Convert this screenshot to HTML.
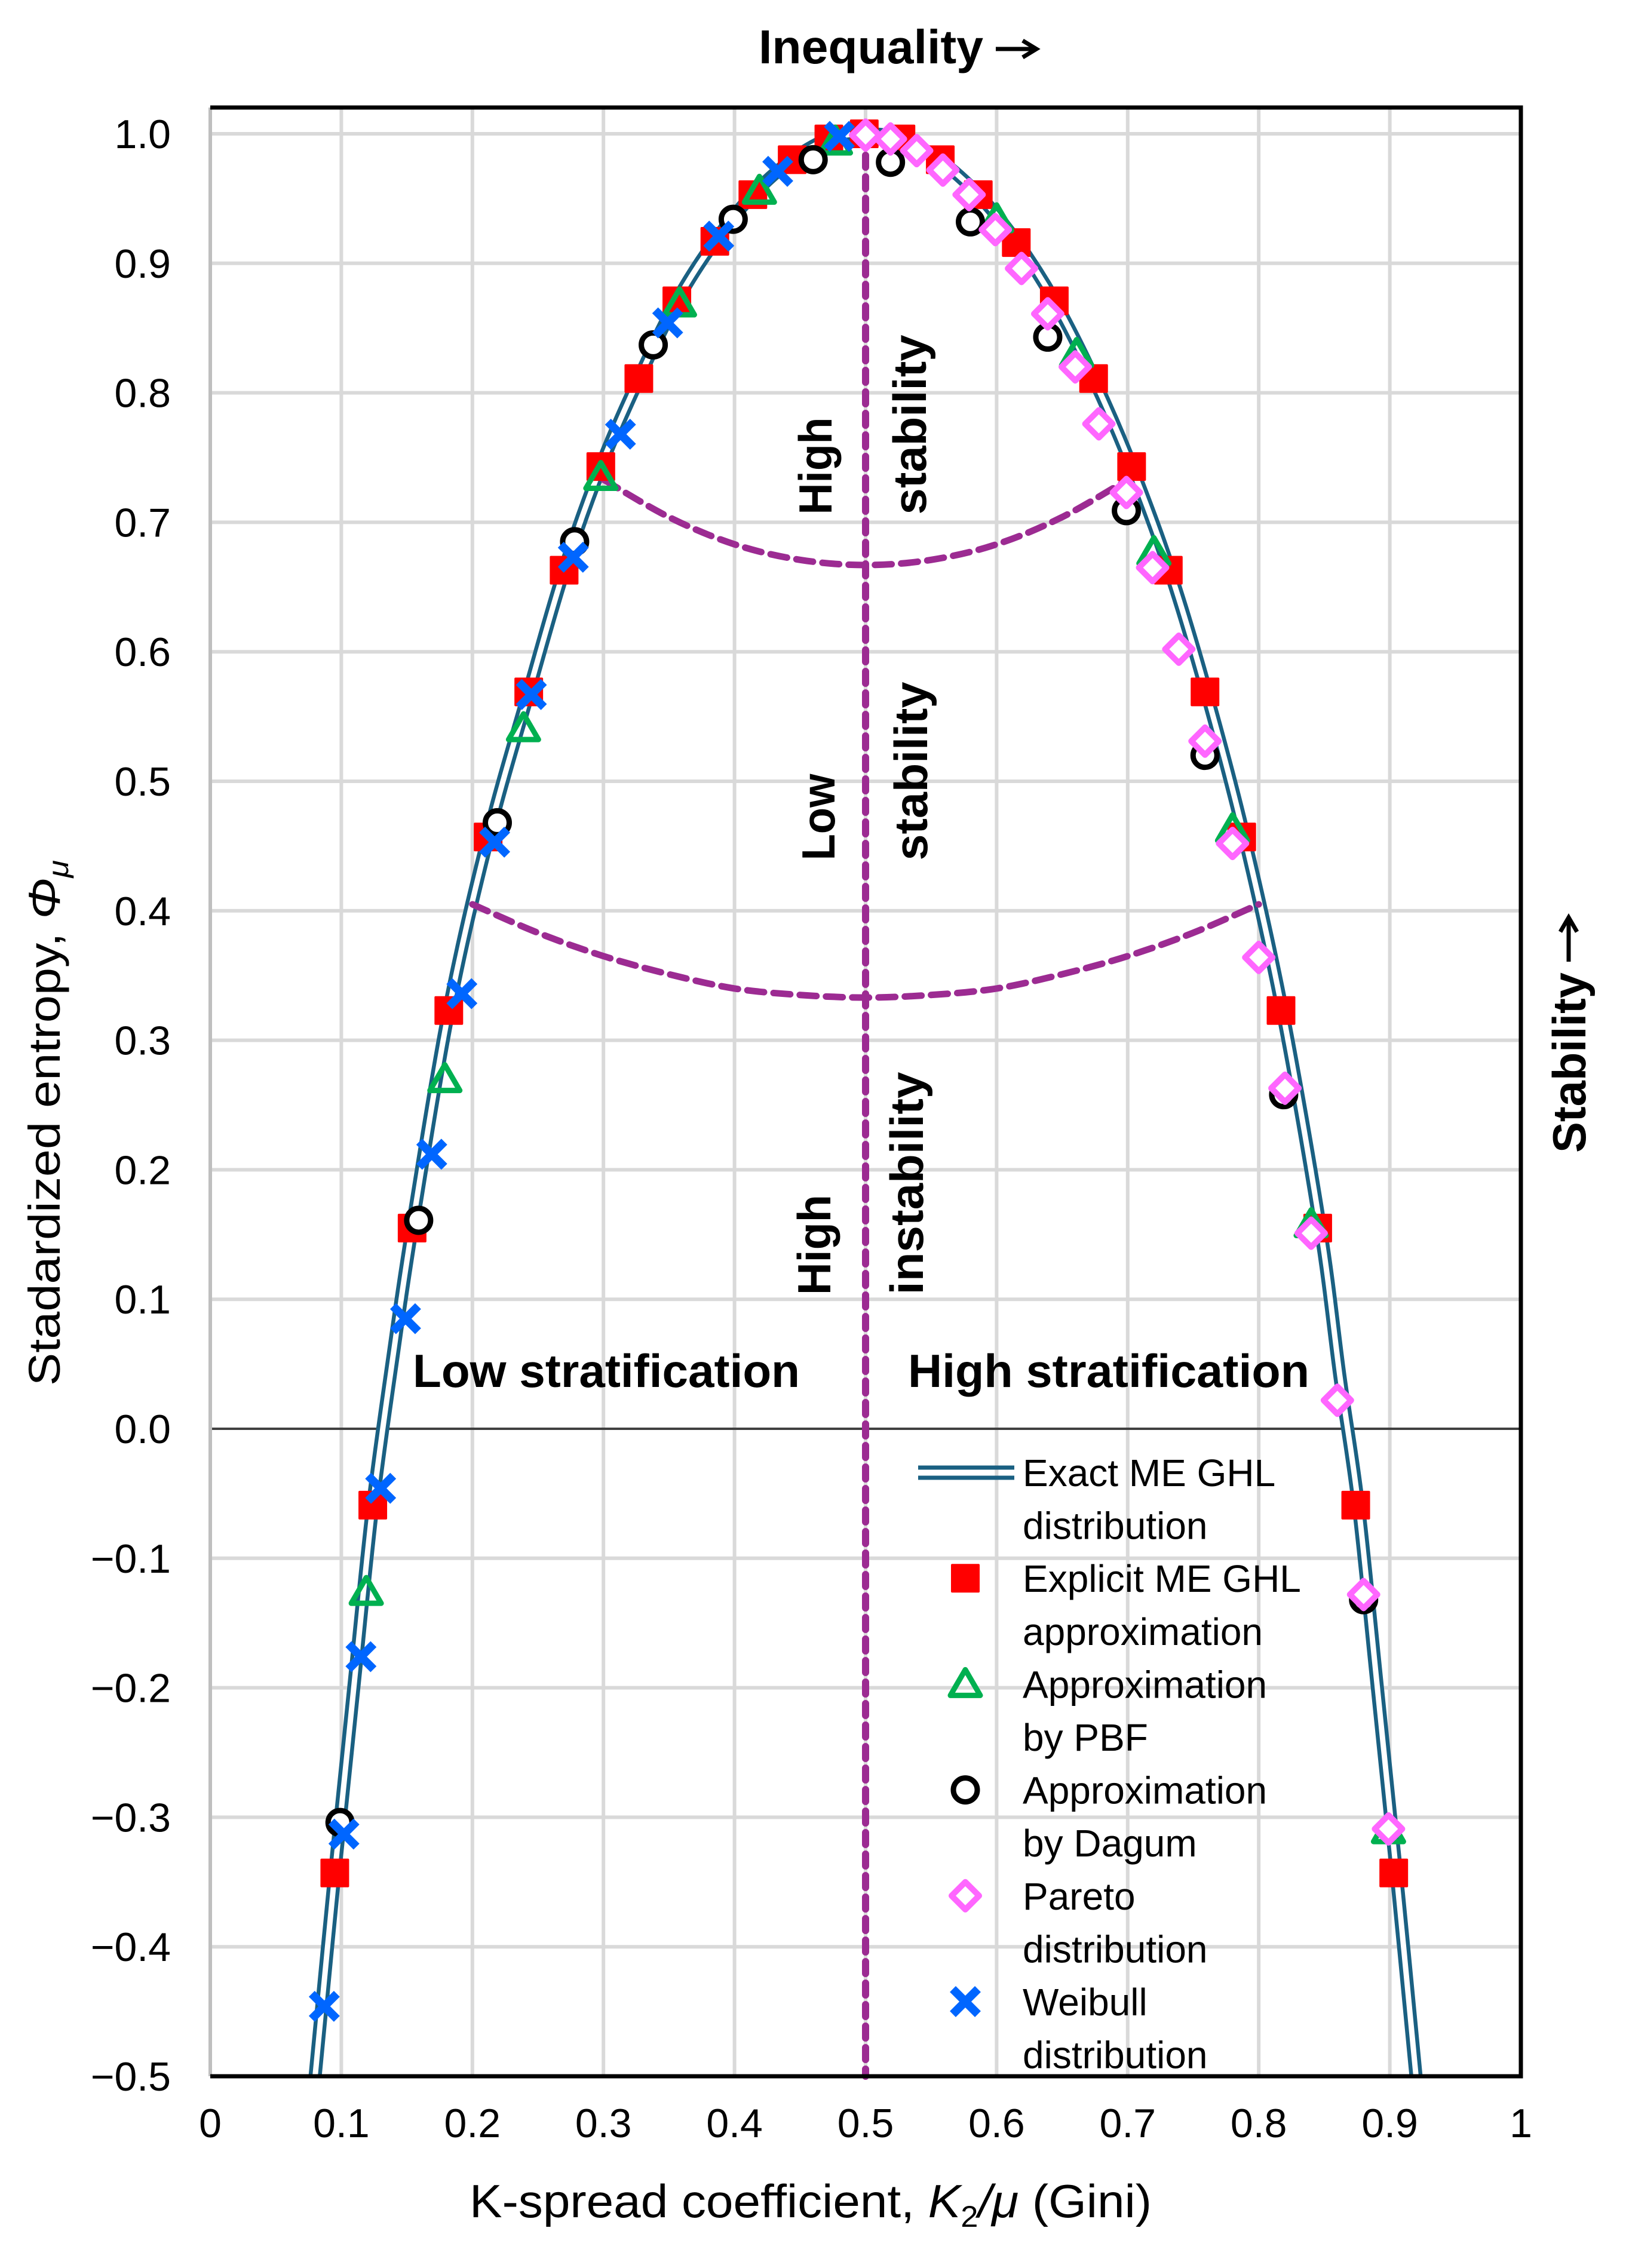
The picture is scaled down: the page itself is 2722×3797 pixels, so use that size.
<!DOCTYPE html>
<html><head><meta charset="utf-8"><style>
html,body{margin:0;padding:0;background:#fff}
svg{display:block}
text{font-family:"Liberation Sans",sans-serif;fill:#000}
</style></head><body>
<svg id="chart" width="2722" height="3797" viewBox="0 0 2722 3797" xmlns="http://www.w3.org/2000/svg">
<rect x="0" y="0" width="2722" height="3797" fill="#fff"/>
<g id="grid"></g>
<g id="ticks"></g>
<g id="curve"></g>
<g id="purple"></g>
<g id="marks"></g>
<g id="frame"></g>

<text x="1270" y="106" font-size="80" font-weight="bold" text-anchor="start" textLength="376" lengthAdjust="spacingAndGlyphs">Inequality</text>
<path d="M1667,82 H1733 M1712,68 L1735,82 L1712,96" fill="none" stroke="#000" stroke-width="7"/>
<text transform="translate(2654,1930) rotate(-90)" font-size="78" font-weight="bold" text-anchor="start" textLength="302" lengthAdjust="spacingAndGlyphs">Stability</text>
<path d="M2626,1610 V1538 M2612,1560 L2626,1536 L2640,1560" fill="none" stroke="#000" stroke-width="7"/>
<text transform="translate(100,1880) rotate(-90)" font-size="74" text-anchor="middle" textLength="880" lengthAdjust="spacingAndGlyphs">Stadardized entropy, <tspan font-style="italic">Φ</tspan><tspan font-style="italic" font-size="48" dy="14">μ</tspan></text>
<text x="1357" y="3712" font-size="78" text-anchor="middle" textLength="1142" lengthAdjust="spacingAndGlyphs">K-spread coefficient, <tspan font-style="italic">K</tspan><tspan font-size="50" dy="16">2</tspan><tspan dy="-16" font-style="italic">/μ</tspan> (Gini)</text>

<text x="1015" y="2322" font-size="78" font-weight="bold" text-anchor="middle" textLength="648" lengthAdjust="spacingAndGlyphs">Low stratification</text>
<text x="1856" y="2322" font-size="78" font-weight="bold" text-anchor="middle" textLength="672" lengthAdjust="spacingAndGlyphs">High stratification</text>

<g font-size="78" font-weight="bold">
<text transform="translate(1392,780) rotate(-90)" text-anchor="middle" textLength="163" lengthAdjust="spacingAndGlyphs">High</text>
<text transform="translate(1550,711) rotate(-90)" text-anchor="middle" textLength="301" lengthAdjust="spacingAndGlyphs">stability</text>
<text transform="translate(1397,1368) rotate(-90)" text-anchor="middle" textLength="145" lengthAdjust="spacingAndGlyphs">Low</text>
<text transform="translate(1552,1291) rotate(-90)" text-anchor="middle" textLength="299" lengthAdjust="spacingAndGlyphs">stability</text>
<text transform="translate(1390,2084) rotate(-90)" text-anchor="middle" textLength="168" lengthAdjust="spacingAndGlyphs">High</text>
<text transform="translate(1545,1981) rotate(-90)" text-anchor="middle" textLength="373" lengthAdjust="spacingAndGlyphs">instability</text>
</g>

<g id="legend"></g>
</svg>
<script>
// ---- data ----
const xTicks = [0,0.1,0.2,0.3,0.4,0.5,0.6,0.7,0.8,0.9,1];
const xTickLabels = ["0","0.1","0.2","0.3","0.4","0.5","0.6","0.7","0.8","0.9","1"];
const yTicks = [1.0,0.9,0.8,0.7,0.6,0.5,0.4,0.3,0.2,0.1,0.0,-0.1,-0.2,-0.3,-0.4,-0.5];
const yTickLabels = ["1.0","0.9","0.8","0.7","0.6","0.5","0.4","0.3","0.2","0.1","0.0","\u22120.1","\u22120.2","\u22120.3","\u22120.4","\u22120.5"];

const curveG   = [0.080,0.095,0.110,0.124,0.140,0.154,0.182,0.212,0.243,0.270,0.298,0.327,0.356,0.385,0.414,0.444,0.472,0.500,0.528,0.556,0.586,0.615,0.644,0.674,0.703,0.732,0.760,0.789,0.818,0.847,0.862,0.876,0.890,0.905,0.920];
const curvePhi = [-0.50,-0.343,-0.195,-0.059,0.06,0.155,0.323,0.457,0.569,0.663,0.743,0.811,0.871,0.917,0.953,0.980,0.996,1.0,0.996,0.980,0.953,0.917,0.871,0.811,0.743,0.663,0.569,0.457,0.323,0.155,0.04,-0.059,-0.195,-0.343,-0.50];

const sqG   = [0.095,0.124,0.154,0.182,0.212,0.243,0.270,0.298,0.327,0.356,0.385,0.414,0.444,0.472,0.499,0.527,0.557,0.586,0.615,0.644,0.674,0.703,0.731,0.759,0.787,0.817,0.845,0.874,0.903];
const sqPhi = [-0.343,-0.059,0.155,0.323,0.457,0.569,0.663,0.743,0.811,0.871,0.917,0.953,0.980,0.996,1.0,0.996,0.980,0.953,0.916,0.871,0.811,0.743,0.663,0.569,0.457,0.323,0.155,-0.059,-0.343];

const triG   = [0.119,0.179,0.239,0.298,0.358,0.419,0.477,0.600,0.661,0.720,0.780,0.840,0.899];
const triPhi = [-0.126,0.270,0.541,0.735,0.869,0.956,0.994,0.934,0.830,0.677,0.463,0.158,-0.310];

const cirG   = [0.099,0.159,0.219,0.278,0.338,0.399,0.460,0.519,0.580,0.639,0.699,0.759,0.819,0.880];
const cirPhi = [-0.304,0.161,0.468,0.685,0.837,0.934,0.980,0.978,0.932,0.843,0.709,0.520,0.258,-0.132];

const diaG   = [0.500,0.519,0.539,0.559,0.579,0.599,0.619,0.639,0.660,0.678,0.699,0.719,0.739,0.759,0.780,0.800,0.820,0.840,0.860,0.880,0.899];
const diaPhi = [0.999,0.996,0.987,0.972,0.953,0.926,0.896,0.861,0.820,0.776,0.723,0.665,0.602,0.531,0.452,0.364,0.263,0.151,0.022,-0.128,-0.309];

const xG   = [0.087,0.102,0.115,0.130,0.149,0.169,0.192,0.217,0.245,0.277,0.313,0.349,0.388,0.433,0.480];
const xPhi = [-0.446,-0.313,-0.176,-0.046,0.085,0.212,0.336,0.453,0.567,0.673,0.768,0.854,0.921,0.971,0.998];

const arcUpperG = [0.30,0.35,0.40,0.45,0.50,0.55,0.60,0.65,0.70];
const arcUpperPhi = [0.733,0.704,0.683,0.671,0.667,0.671,0.683,0.704,0.733];
const arcLowerG = [0.20,0.25,0.30,0.35,0.40,0.45,0.50,0.55,0.60,0.65,0.70,0.75,0.80];
const arcLowerPhi = [0.405,0.383,0.365,0.351,0.340,0.335,0.333,0.335,0.340,0.351,0.365,0.383,0.405];

const legendLabels = ["Exact ME GHL","distribution","Explicit ME GHL","approximation","Approximation","by PBF","Approximation","by Dagum","Pareto","distribution","Weibull","distribution"];

// ---- axes ----
const X0=352, X1=2546, Y1=224, Ym=3476;
function sx(g){return X0+(X1-X0)*g;}
function sy(p){return Y1+(1-p)*(Ym-Y1)/1.5;}
const NS="http://www.w3.org/2000/svg";
function mk(tag,attrs,parent){const e=document.createElementNS(NS,tag);for(const k in attrs)e.setAttribute(k,attrs[k]);parent.appendChild(e);return e;}

const grid=document.getElementById('grid');
xTicks.forEach((t,i)=>{ if(i===0||i===xTicks.length-1)return;
  const l=mk('line',{x1:sx(t),x2:sx(t),y1:180,y2:Ym,stroke:'#d9d9d9','stroke-width':6},grid);
  
  
});
yTicks.forEach(t=>{ if(t===0||t===-0.5)return;
  const l=mk('line',{x1:X0,x2:X1,y1:sy(t),y2:sy(t),stroke:'#d9d9d9','stroke-width':6},grid);
  
  
});
const z=mk('line',{x1:X0,x2:X1,y1:sy(0),y2:sy(0),stroke:'#404040','stroke-width':4},grid);



const ticks=document.getElementById('ticks');
xTicks.forEach((t,i)=>{
  const e=mk('text',{x:sx(t),y:3578,'font-size':68,'text-anchor':'middle'},ticks);
  e.textContent=xTickLabels[i];
  
  
});
yTicks.forEach((t,i)=>{
  const e=mk('text',{x:286,y:sy(t)+24,'font-size':68,'text-anchor':'end'},ticks);
  e.textContent=yTickLabels[i];
  
  
});

// spline path
function spline(G,P){
  const pts=G.map((g,i)=>[sx(g),sy(P[i])]);
  let d='M'+pts[0][0]+','+pts[0][1];
  for(let i=0;i<pts.length-1;i++){
    const p0=pts[Math.max(i-1,0)],p1=pts[i],p2=pts[i+1],p3=pts[Math.min(i+2,pts.length-1)];
    const c1=[p1[0]+(p2[0]-p0[0])/6,p1[1]+(p2[1]-p0[1])/6];
    const c2=[p2[0]-(p3[0]-p1[0])/6,p2[1]-(p3[1]-p1[1])/6];
    d+=' C'+c1[0]+','+c1[1]+' '+c2[0]+','+c2[1]+' '+p2[0]+','+p2[1];
  }
  return d;
}
const cg=document.getElementById('curve');
const cd=spline(curveG,curvePhi);
const c1=mk('path',{d:cd,fill:'none',stroke:'#1a6082','stroke-width':22},cg);


const c2=mk('path',{d:cd,fill:'none',stroke:'#fff','stroke-width':9},cg);



const pg=document.getElementById('purple');
const vl=mk('line',{x1:sx(0.5),x2:sx(0.5),y1:sy(1.0),y2:Ym,stroke:'#9c2b92','stroke-width':12,'stroke-dasharray':'20 16','stroke-linecap':'round'},pg);


const a1=mk('path',{d:spline(arcUpperG,arcUpperPhi),fill:'none',stroke:'#9c2b92','stroke-width':11,'stroke-dasharray':'28 16','stroke-linecap':'round'},pg);


const a2=mk('path',{d:spline(arcLowerG,arcLowerPhi),fill:'none',stroke:'#9c2b92','stroke-width':11,'stroke-dasharray':'28 16','stroke-linecap':'round'},pg);



// markers
function square(x,y,p){return mk('rect',{x:x-24,y:y-24,width:48,height:48,rx:2,fill:'#ff0000'},p);}
function tri(x,y,p){return mk('polygon',{points:`${x},${y-24} ${x+25},${y+19} ${x-25},${y+19}`,fill:'none',stroke:'#00b050','stroke-width':9,'stroke-linejoin':'round'},p);}
function circ(x,y,p){return mk('circle',{cx:x,cy:y,r:20,fill:'#fff',stroke:'#000','stroke-width':9},p);}
function dia(x,y,p){return mk('polygon',{points:`${x},${y-23} ${x+23},${y} ${x},${y+23} ${x-23},${y}`,fill:'#fff',stroke:'#ff66ff','stroke-width':10,'stroke-linejoin':'round'},p);}
function cross(x,y,p){return mk('path',{d:`M${x-21},${y-21}L${x+21},${y+21}M${x+21},${y-21}L${x-21},${y+21}`,stroke:'#0066ff','stroke-width':14},p);}
const mg=document.getElementById('marks');
sqG.forEach((g,i)=>{const e=square(sx(g),sy(sqPhi[i]),mg);
  
  });
triG.forEach((g,i)=>{const e=tri(sx(g),sy(triPhi[i]),mg);
  
  });
cirG.forEach((g,i)=>{const e=circ(sx(g),sy(cirPhi[i]),mg);
  
  });
diaG.forEach((g,i)=>{const e=dia(sx(g),sy(diaPhi[i]),mg);
  
  });
xG.forEach((g,i)=>{const e=cross(sx(g),sy(xPhi[i]),mg);
  
  });

// frame
const fr=document.getElementById('frame');
const fl=mk('line',{x1:X0,x2:X0,y1:180,y2:Ym,stroke:'#bfbfbf','stroke-width':6},fr);


const fp=mk('path',{d:`M${X0},180 H${X1} V${Ym} H${X0}`,fill:'none',stroke:'#000','stroke-width':7},fr);



// legend
const lg=document.getElementById('legend');
const rowY0=2465, rowH=88.6, mx=1616;
legendLabels.forEach((s,i)=>{
  const t=mk('text',{x:1712,y:rowY0+i*rowH+23,'font-size':64},lg);
  t.textContent=s;
  
  
});
const ll1=mk('line',{x1:1537,x2:1698,y1:rowY0-8,y2:rowY0-8,stroke:'#1a6082','stroke-width':7},lg);


const ll2=mk('line',{x1:1537,x2:1698,y1:rowY0+9,y2:rowY0+9,stroke:'#1a6082','stroke-width':7},lg);


let e;
e=square(mx,rowY0+2*rowH,lg);  
e=tri(mx,rowY0+4*rowH,lg);  
e=circ(mx,rowY0+6*rowH,lg);  
e=dia(mx,rowY0+8*rowH,lg);  
e=cross(mx,rowY0+10*rowH,lg);  
</script>
</body></html>
